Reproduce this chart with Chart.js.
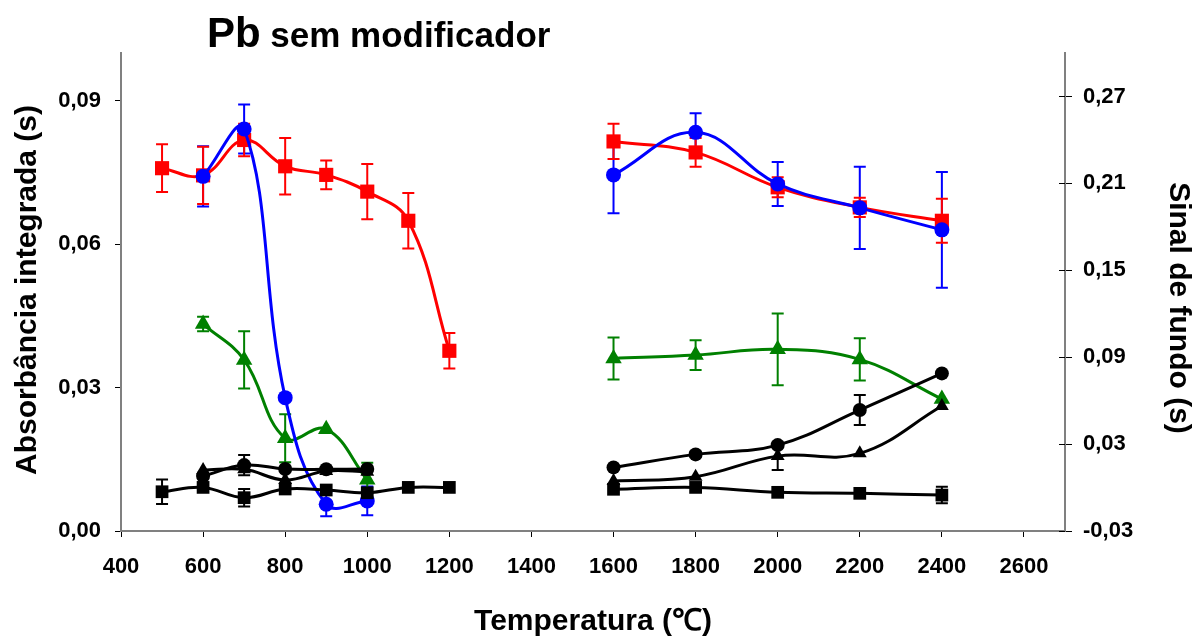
<!DOCTYPE html>
<html>
<head>
<meta charset="utf-8">
<script src="https://cdn.jsdelivr.net/npm/chart.js@4.4.0/dist/chart.umd.min.js"></script>
<style>
  html, body { margin: 0; padding: 0; background: #fff; }
  #wrap { position: relative; width: 1196px; height: 639px; }
</style>
</head>
<body>
<div id="wrap"><canvas id="c" width="1196" height="639"></canvas></div>
<script>
// Pb sem modificador — pyrolysis/atomization curves, Excel-style smoothed lines with error bars

const temps = [500, 600, 700, 800, 900, 1000, 1100, 1200, 1400, 1600, 1800, 2000, 2200, 2400];

// absorbance (left axis)
const red      = [0.0759, 0.0744, 0.0818, 0.0763, 0.0745, 0.0710, 0.0649, 0.0377, null, 0.0815, 0.0792, 0.0719, 0.0677, 0.0649];
const redErr   = [0.0050, 0.0060, 0.0034, 0.0059, 0.0030, 0.0058, 0.0058, 0.0037, null, 0.0037, 0.0030, 0.0021, 0.0020, 0.0046];
const blue     = [null, 0.0742, 0.0841, 0.0279, 0.0056, 0.0063, null, null, null, 0.0745, 0.0834, 0.0726, 0.0676, 0.0630];
const blueErr  = [null, 0.0063, 0.0051, 0.0005, 0.0025, 0.0030, null, null, null, 0.0080, 0.0040, 0.0046, 0.0086, 0.0121];
const green    = [null, 0.0433, 0.0358, 0.0194, 0.0213, 0.0107, null, null, null, 0.0361, 0.0368, 0.0380, 0.0359, 0.0276];
const greenErr = [null, 0.0015, 0.0060, 0.0050, 0, 0.0036, null, null, null, 0.0044, 0.0031, 0.0075, 0.0044, 0];

// background signal (right axis)
const bgCircle    = [null, 0.0079, 0.0155, 0.0128, 0.0126, 0.0128, null, null, null, 0.0139, 0.0229, 0.0293, 0.0535, 0.0788];
const bgCircleErr = [null, 0, 0.0070, 0, 0, 0, null, null, null, 0, 0.0020, 0, 0.0104, 0];
const bgTri       = [null, 0.0121, 0.0126, 0.0052, 0.0114, 0.0109, null, null, null, 0.0045, 0.0075, 0.0217, 0.0236, 0.0563];
const bgTriErr    = [null, 0, 0, 0, 0, 0, null, null, null, 0, 0, 0.0096, 0, 0];
const bgSquare    = [-0.0029, 0.0001, -0.0070, -0.0010, -0.0017, -0.0036, 0.0001, 0.0001, null, -0.0012, 0.0001, -0.0033, -0.0040, -0.0052];
const bgSquareErr = [0.0085, 0, 0.0060, 0, 0, 0, 0, 0, null, 0, 0, 0, 0, 0.0057];

const xTicks = [400, 600, 800, 1000, 1200, 1400, 1600, 1800, 2000, 2200, 2400, 2600];
const leftTicks = [0, 0.03, 0.06, 0.09];
const rightTicks = [-0.03, 0.03, 0.09, 0.15, 0.21, 0.27];

const FONT = '"Liberation Sans", Arial, sans-serif';
const fmt = v => v.toFixed(2).replace('.', ',');
const pts = vals => temps.map((t, i) => ({ x: t, y: vals[i] }));

function series(vals, errs, color, style, radius, axis) {
  return {
    data: pts(vals), errors: errs, yAxisID: axis,
    borderColor: color, backgroundColor: color,
    borderWidth: 3, tension: 0.4,
    pointStyle: style, pointRadius: radius, pointHoverRadius: radius,
    pointBorderWidth: 0, spanGaps: false,
  };
}

const errorBars = {
  id: 'errorBars',
  beforeDatasetsDraw(chart) {
    const ctx = chart.ctx, xs = chart.scales.x;
    chart.data.datasets.forEach(ds => {
      if (!ds.errors) return;
      const ys = chart.scales[ds.yAxisID];
      ctx.save();
      ctx.strokeStyle = ds.borderColor;
      ctx.lineWidth = 2;
      ds.data.forEach((p, i) => {
        const e = ds.errors[i];
        if (p.y == null || !e) return;
        const x = xs.getPixelForValue(p.x);
        const y1 = ys.getPixelForValue(p.y + e), y2 = ys.getPixelForValue(p.y - e);
        ctx.beginPath();
        ctx.moveTo(x, y1); ctx.lineTo(x, y2);
        ctx.moveTo(x - 6, y1); ctx.lineTo(x + 6, y1);
        ctx.moveTo(x - 6, y2); ctx.lineTo(x + 6, y2);
        ctx.stroke();
      });
      ctx.restore();
    });
  }
};

const titles = {
  id: 'titles',
  afterDraw(chart) {
    const ctx = chart.ctx, ca = chart.chartArea;
    ctx.save();
    ctx.fillStyle = '#000';
    // main title
    ctx.textBaseline = 'alphabetic';
    ctx.textAlign = 'left';
    ctx.font = 'bold 42px ' + FONT;
    ctx.fillText('Pb', 207, 47);
    const w = ctx.measureText('Pb ').width;
    ctx.font = 'bold 35px ' + FONT;
    ctx.fillText('sem modificador', 205 + w, 47);
    // axis titles
    ctx.font = 'bold 30px ' + FONT;
    ctx.textAlign = 'center';
    ctx.textBaseline = 'middle';
    ctx.fillText('Temperatura (\u2103)', (ca.left + ca.right) / 2, 622);
    ctx.save();
    ctx.translate(28, 290);
    ctx.rotate(-Math.PI / 2);
    ctx.fillText('Absorbância integrada (s)', 0, 0);
    ctx.restore();
    ctx.save();
    ctx.translate(1178, 308);
    ctx.rotate(Math.PI / 2);
    ctx.fillText('Sinal de fundo (s)', 0, 0);
    ctx.restore();
    // inner half of the right axis ticks (they cross the axis)
    const yr = chart.scales.yR;
    ctx.strokeStyle = '#000';
    ctx.lineWidth = 1;
    rightTicks.forEach(v => {
      const y = Math.round(yr.getPixelForValue(v)) + 0.5;
      ctx.beginPath(); ctx.moveTo(ca.right - 6, y); ctx.lineTo(ca.right, y); ctx.stroke();
    });
    ctx.restore();
  }
};

const tickFont = { family: FONT, size: 22, weight: 'bold' };

new Chart(document.getElementById('c'), {
  type: 'line',
  data: {
    datasets: [
      series(bgCircle, bgCircleErr, '#000000', 'circle', 7, 'yR'),
      series(bgTri, bgTriErr, '#000000', 'triangle', 8, 'yR'),
      series(bgSquare, bgSquareErr, '#000000', 'rect', 9, 'yR'),
      series(blue, blueErr, '#0000FF', 'circle', 7.5, 'y'),
      series(red, redErr, '#FF0000', 'rect', 10, 'y'),
      series(green, greenErr, '#008000', 'triangle', 9.5, 'y'),
    ]
  },
  options: {
    responsive: false, animation: false,
    layout: { padding: { top: 53, left: 0, right: 0, bottom: 0 } },
    plugins: { legend: { display: false }, tooltip: { enabled: false }, title: { display: false } },
    scales: {
      x: {
        type: 'linear', min: 400, max: 2700,
        afterBuildTicks: s => { s.ticks = xTicks.map(v => ({ value: v })); },
        afterFit: s => { s.height = 108; },
        ticks: { font: tickFont, color: '#000', padding: 17, maxRotation: 0, callback: v => String(v) },
        grid: { drawOnChartArea: false, tickLength: 6, color: '#000', tickWidth: 1 },
        border: { color: '#808080', width: 2 },
      },
      y: {
        position: 'left', min: 0, max: 0.1,
        afterBuildTicks: s => { s.ticks = leftTicks.map(v => ({ value: v })); },
        afterFit: s => { s.width = 121; },
        ticks: { font: tickFont, color: '#000', padding: 14, callback: v => fmt(v) },
        grid: { drawOnChartArea: false, tickLength: 6, color: '#000', tickWidth: 1 },
        border: { color: '#808080', width: 2 },
      },
      yR: {
        position: 'right', min: -0.03, max: 0.30,
        afterBuildTicks: s => { s.ticks = rightTicks.map(v => ({ value: v })); },
        afterFit: s => { s.width = 131; },
        ticks: { font: tickFont, color: '#000', padding: 11, callback: v => fmt(v) },
        grid: { drawOnChartArea: false, tickLength: 7, color: '#000', tickWidth: 1 },
        border: { color: '#808080', width: 2 },
      }
    }
  },
  plugins: [errorBars, titles]
});
</script>
</body>
</html>
